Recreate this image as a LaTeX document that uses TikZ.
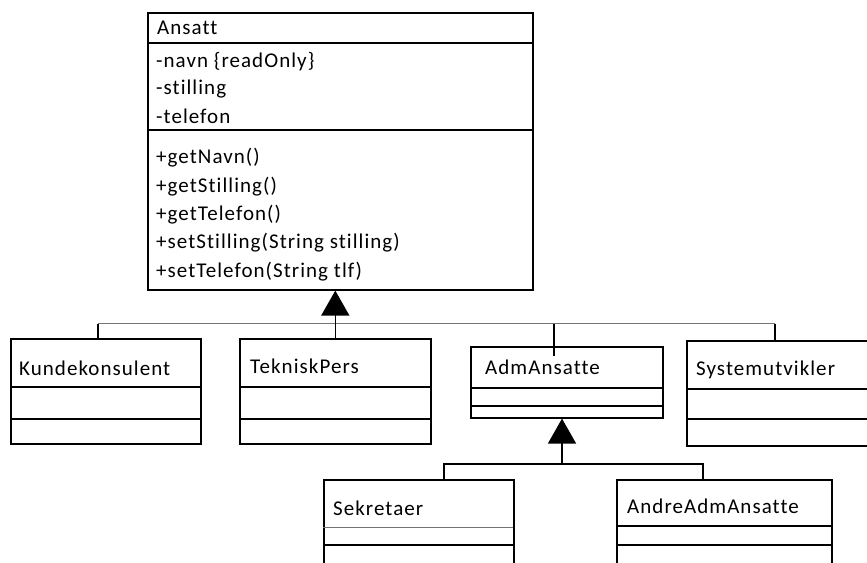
\documentclass[tikz,border=0pt]{standalone}
\usepackage{fontspec}
\setmainfont{Carlito}[LetterSpace=5, Ligatures=NoCommon]
\usetikzlibrary{arrows.meta,calc}
\begin{document}
\begin{tikzpicture}[x=1pt,y=-1pt,
  box/.style={draw, line width=1.6pt, inner sep=0pt, anchor=north west},
  lbl/.style={anchor=base west, inner sep=0pt, font=\fontsize{21}{25}\selectfont},
  sep/.style={line width=1.6pt},
  thinsep/.style={line width=0.8pt, draw=black!55},
  conn/.style={line width=1.6pt},
  gconn/.style={line width=1pt, draw=black!55},
  inh/.style={-{Triangle[length=25pt,width=28pt]}}
]
\clip (0,0) rectangle (867,562);
\fill[white] (0,0) rectangle (867,562);

% class boxes
\node[box, minimum width=385pt, minimum height=277pt] (ansatt) at (147,12) {};
\node[box, minimum width=190pt, minimum height=105pt] (kunde) at (10,338) {};
\node[box, minimum width=191pt, minimum height=105pt] (teknisk) at (239,338) {};
\node[box, minimum width=192pt, minimum height=71pt] (adm) at (470,346) {};
\node[box, minimum width=200pt, minimum height=105pt] (system) at (686,340) {};
\node[box, minimum width=190pt, minimum height=100pt] (sekr) at (323,479) {};
\node[box, minimum width=215pt, minimum height=100pt] (andre) at (616,479) {};

% compartments
\draw[sep] (147,43) -- (532,43);
\draw[sep] (147,130) -- (532,130);
\draw[sep] (10,387) -- (200,387);
\draw[sep] (10,419) -- (200,419);
\draw[sep] (239,387) -- (430,387);
\draw[sep] (239,419) -- (430,419);
\draw[sep] (470,388) -- (662,388);
\draw[sep] (470,406) -- (662,406);
\draw[sep] (686,389) -- (886,389);
\draw[sep] (686,419) -- (886,419);
\draw[thinsep] (323,527) -- (513,527);
\draw[sep] (323,545) -- (513,545);
\draw[sep] (616,526) -- (831,526);
\draw[sep] (616,545) -- (831,545);

% texts
\node[lbl] (tAnsatt) at (157,34) {Ansatt};
\node[lbl] (a1) at (156,67) {-navn \{readOnly\}};
\node[lbl] (a2) at (156,94) {-stilling};
\node[lbl] (a3) at (156,123) {-telefon};
\node[lbl] (m1) at (156,163) {+getNavn()};
\node[lbl] (m2) at (156,192) {+getStilling()};
\node[lbl] (m3) at (156,220) {+getTelefon()};
\node[lbl] (m4) at (156,248) {+setStilling(String stilling)};
\node[lbl] (m5) at (156,277) {+setTelefon(String tlf)};
\node[lbl] (tKunde) at (19,375) {Kundekonsulent};
\node[lbl] (tTek) at (250,373) {TekniskPers};
\node[lbl] (tAdm) at (485,374) {AdmAnsatte};
\node[lbl] (tSys) at (696,375) {Systemutvikler};
\node[lbl] (tSek) at (333,515) {Sekretaer};
\node[lbl] (tAnd) at (627,513) {AndreAdmAnsatte};

% first-level generalisation
\coordinate (kd) at (98,323.5);
\coordinate (ad) at (554,323.5);
\coordinate (sd) at (775,323.5);
\draw[gconn] (kd) -- (sd);
\draw[conn] (kd) -- (kd |- kunde.north);
\draw[conn] (ad) -- ($(ad |- adm.north)+(0,10)$);
\draw[conn] (sd) -- (sd |- system.north);
\draw[conn, inh] (teknisk.north) -- (teknisk.north |- ansatt.south);

% second-level generalisation
\coordinate (b2) at (562,464);
\coordinate (s1) at (444,464);
\coordinate (s2) at (703,464);
\draw[conn] (s1 |- sekr.north) -- (s1) -- (s2) -- (s2 |- andre.north);
\draw[conn, inh] (b2) -- (b2 |- adm.south);
\end{tikzpicture}
\end{document}
